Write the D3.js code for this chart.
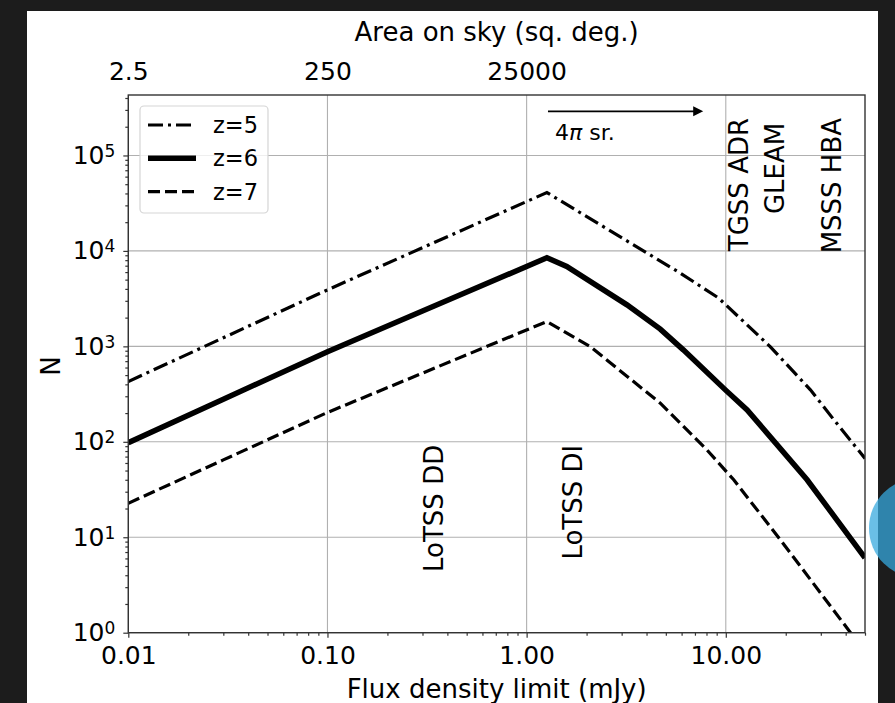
<!DOCTYPE html>
<html>
<head>
<meta charset="utf-8">
<script src="https://cdn.jsdelivr.net/npm/d3@7"></script>
<style>
  html, body { margin: 0; padding: 0; background: #1c1c1c; }
  svg { display: block; font-family: "DejaVu Sans", sans-serif; }
</style>
</head>
<body>
<div class="chart"></div>
<script>
// values: flux density limit (mJy) -> N
var fluxZ5 = [0.01, 0.03, 0.1, 0.3, 1.264, 5.91, 9.18, 16.7, 26.6, 34.9, 50];
var countZ5 = [428, 1230, 3910, 10800, 40900, 5850, 3220, 995, 350, 170, 67];

var fluxZ6 = [0.01, 0.03, 0.1, 0.3, 1.264, 1.59, 3.19, 4.69, 6.12, 9.95, 12.8, 25.6, 50];
var countZ6 = [98, 279, 880, 2350, 8470, 6860, 2720, 1515, 919, 350, 216, 40, 6.1];

var fluxZ7 = [0.01, 0.03, 0.1, 0.3, 1.264, 2.085, 4.69, 8.05, 10.96, 18.8, 42.3, 50];
var countZ7 = [22.7, 64.6, 203, 524, 1820, 995, 254, 82, 40, 9.4, 1, 0.63];

var seriesNames = ['z=5', 'z=6', 'z=7'];

// secondary axis: area on sky at the flux ticks
var areaTickFlux = [0.01, 0.1, 1];
var areaTickLabels = ['2.5', '250', '25000'];

// survey labels (flux, N at the top end of the rotated text)
var surveyNames = ['TGSS ADR', 'GLEAM', 'MSSS HBA', 'LoTSS DD', 'LoTSS DI'];
var surveyFlux = [13.0, 19.5, 37.7, 0.382, 1.894];
var surveyTop = [2.47e5, 2.2e5, 2.47e5, 93, 93];

// 4pi arrow
var arrowFlux = [1.28, 7.7];
var arrowN = 2.9e5;

function init() {
  var width = 895,
      height = 703,
      area = { x1: 128.3, y1: 95, x2: 865, y2: 632.7 },
      tickFont = 25,
      labelFont = 26;

  var svg = d3.select('.chart')
    .append('svg')
      .attr('width', width)
      .attr('height', height);

  svg.append('rect')
      .attr('width', width).attr('height', height)
      .attr('fill', '#1c1c1c');
  svg.append('rect')
      .attr('x', 27).attr('y', 11)
      .attr('width', 851).attr('height', height - 11)
      .attr('fill', '#ffffff');

  var x = d3.scaleLog().domain([0.01, 50]).range([area.x1, area.x2]),
      y = d3.scaleLog().domain([1, 4.3e5]).range([area.y2, area.y1]);

  function isMajor(d) {
    var l = Math.log10(d);
    return Math.abs(l - Math.round(l)) < 1e-9;
  }
  var xMajor = x.ticks().filter(isMajor),
      xMinor = x.ticks().filter(function(d) { return !isMajor(d); }),
      yMajor = y.ticks().filter(isMajor),
      yMinor = y.ticks().filter(function(d) { return !isMajor(d); });

  // grid
  var grid = svg.append('g').attr('stroke', '#b0b0b0').attr('stroke-width', 1.1);
  grid.selectAll('line.v').data(xMajor)
    .enter().append('line')
      .attr('class', 'v')
      .attr('x1', function(d) { return x(d); }).attr('x2', function(d) { return x(d); })
      .attr('y1', area.y1).attr('y2', area.y2);
  grid.selectAll('line.h').data(yMajor)
    .enter().append('line')
      .attr('class', 'h')
      .attr('y1', function(d) { return y(d); }).attr('y2', function(d) { return y(d); })
      .attr('x1', area.x1).attr('x2', area.x2);

  // curves
  svg.append('clipPath').attr('id', 'clip')
    .append('rect')
      .attr('x', area.x1).attr('y', area.y1)
      .attr('width', area.x2 - area.x1).attr('height', area.y2 - area.y1);

  var series = [
    { name: seriesNames[0], flux: fluxZ5, count: countZ5, dash: '15,5,3,5', width: 3.2 },
    { name: seriesNames[1], flux: fluxZ6, count: countZ6, dash: null, width: 5.5 },
    { name: seriesNames[2], flux: fluxZ7, count: countZ7, dash: '12,5', width: 3.2 }
  ];

  var line = d3.line()
      .x(function(d) { return x(d[0]); })
      .y(function(d) { return y(d[1]); });

  svg.append('g').attr('clip-path', 'url(#clip)')
    .selectAll('path').data(series)
    .enter().append('path')
      .attr('d', function(s) { return line(d3.zip(s.flux, s.count)); })
      .attr('fill', 'none')
      .attr('stroke', '#000')
      .attr('stroke-width', function(s) { return s.width; })
      .attr('stroke-dasharray', function(s) { return s.dash; })
      .attr('stroke-linejoin', 'miter');

  // axes
  function styleAxis(g) {
    g.select('.domain').remove();
    g.selectAll('line').attr('stroke', '#333').attr('stroke-width', 1.2);
    g.selectAll('text').attr('fill', '#000').attr('font-size', tickFont).attr('font-family', '"DejaVu Sans", sans-serif');
  }

  svg.append('g')
      .attr('transform', 'translate(0,' + area.y2 + ')')
      .call(d3.axisBottom(x).tickValues(xMinor).tickSize(3).tickFormat(''))
      .call(styleAxis);
  svg.append('g')
      .attr('transform', 'translate(0,' + area.y2 + ')')
      .call(d3.axisBottom(x).tickValues(xMajor).tickSize(5).tickPadding(8.5).tickFormat(d3.format('.2f')))
      .call(styleAxis);

  svg.append('g')
      .attr('transform', 'translate(' + area.x1 + ',0)')
      .call(d3.axisLeft(y).tickValues(yMinor).tickSize(3).tickFormat(''))
      .call(styleAxis);
  var gy = svg.append('g')
      .attr('transform', 'translate(' + area.x1 + ',0)')
      .call(d3.axisLeft(y).tickValues(yMajor).tickSize(5).tickPadding(8))
      .call(styleAxis);
  gy.selectAll('.tick text').each(function(d) {
    var t = d3.select(this);
    t.text(null);
    t.append('tspan').text('10');
    t.append('tspan').attr('dy', '-0.42em').attr('font-size', 17).text(Math.round(Math.log10(d)));
  });

  var areaScale = d3.scaleOrdinal().domain(areaTickFlux).range(areaTickLabels);
  svg.append('g')
      .attr('transform', 'translate(0,' + area.y1 + ')')
      .call(d3.axisTop(x).tickValues(areaTickFlux).tickSize(0).tickPadding(15)
        .tickFormat(function(d) { return areaScale(d); }))
      .call(styleAxis);

  // frame
  svg.append('rect')
      .attr('x', area.x1).attr('y', area.y1)
      .attr('width', area.x2 - area.x1).attr('height', area.y2 - area.y1)
      .attr('fill', 'none').attr('stroke', '#333').attr('stroke-width', 1.4);

  // axis titles
  svg.append('text')
      .attr('x', (area.x1 + area.x2) / 2).attr('y', 698)
      .attr('text-anchor', 'middle').attr('font-size', labelFont)
      .text('Flux density limit (mJy)');
  svg.append('text')
      .attr('x', (area.x1 + area.x2) / 2).attr('y', 41)
      .attr('text-anchor', 'middle').attr('font-size', labelFont)
      .text('Area on sky (sq. deg.)');
  svg.append('text')
      .attr('transform', 'translate(60,366) rotate(-90)')
      .attr('text-anchor', 'middle').attr('font-size', labelFont)
      .text('N');

  // survey labels
  svg.selectAll('text.survey').data(surveyNames)
    .enter().append('text')
      .attr('class', 'survey')
      .attr('transform', function(d, i) {
        return 'translate(' + x(surveyFlux[i]) + ',' + y(surveyTop[i]) + ') rotate(-90)';
      })
      .attr('text-anchor', 'end').attr('font-size', labelFont)
      .text(function(d) { return d; });

  // 4pi sr arrow
  var ay = y(arrowN);
  svg.append('line')
      .attr('x1', x(arrowFlux[0])).attr('x2', x(arrowFlux[1]) - 8)
      .attr('y1', ay).attr('y2', ay)
      .attr('stroke', '#000').attr('stroke-width', 1.8);
  svg.append('path')
      .attr('d', 'M' + x(arrowFlux[1]) + ',' + ay + 'l-10,-5v10z')
      .attr('fill', '#000');
  var pi = svg.append('text')
      .attr('x', x(arrowFlux[0]) + 7).attr('y', ay + 29)
      .attr('font-size', 22);
  pi.append('tspan').text('4');
  pi.append('tspan').attr('font-style', 'italic').text('\u03c0');
  pi.append('tspan').text(' sr.');

  // legend
  var legend = svg.append('g');
  legend.append('rect')
      .attr('x', 140).attr('y', 106).attr('width', 128).attr('height', 107).attr('rx', 4)
      .attr('fill', '#fff').attr('fill-opacity', 0.8)
      .attr('stroke', '#d5d5d5').attr('stroke-width', 1.2);
  var rows = legend.selectAll('g.row').data(series)
    .enter().append('g')
      .attr('class', 'row')
      .attr('transform', function(d, i) { return 'translate(0,' + (125 + i * 33.3) + ')'; });
  rows.append('line')
      .attr('x1', 148).attr('x2', 196)
      .attr('stroke', '#000')
      .attr('stroke-width', function(s) { return s.width; })
      .attr('stroke-dasharray', function(s) { return s.dash; });
  rows.append('text')
      .attr('x', 213).attr('y', 8)
      .attr('font-size', 22.5)
      .text(function(s) { return s.name; });

  // decoration at the right edge
  svg.append('circle')
      .attr('cx', 919).attr('cy', 528).attr('r', 50)
      .attr('fill', '#36a9df').attr('fill-opacity', 0.74);
}

d3.select(window).on('load', init);
</script>
</body>
</html>
